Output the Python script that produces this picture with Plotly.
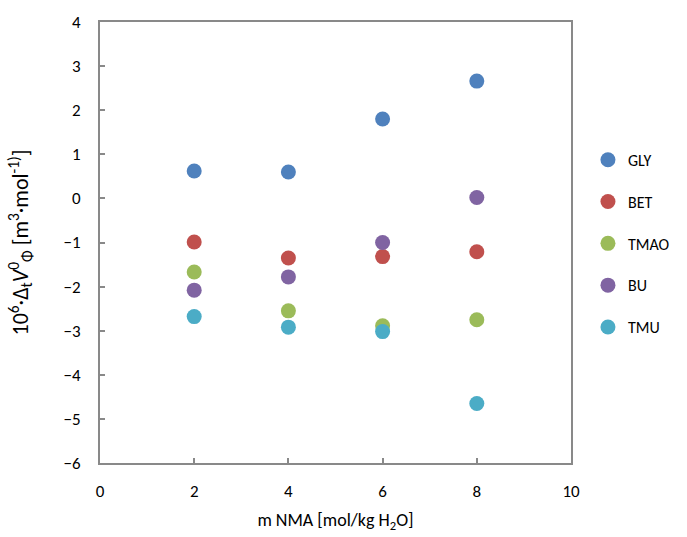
import plotly.graph_objects as go

x_vals = [2, 4, 6, 8]
series_names = ["GLY", "BET", "TMAO", "BU", "TMU"]
gly = [0.62, 0.60, 1.80, 2.66]
bet = [-0.99, -1.35, -1.32, -1.21]
tmao = [-1.67, -2.55, -2.89, -2.75]
bu = [-2.08, -1.78, -1.00, 0.02]
tmu = [-2.68, -2.92, -3.02, -4.65]
colors = ["#4F81BD", "#C0504D", "#9BBB59", "#8064A2", "#4BACC6"]
x_ticks = [0, 2, 4, 6, 8, 10]
y_ticks = [-6, -5, -4, -3, -2, -1, 0, 1, 2, 3, 4]

font_family = "Carlito, Calibri, Lato, sans-serif"
axis_color = "#898989"

fig = go.Figure()
for name, vals, col in zip(series_names, [gly, bet, tmao, bu, tmu], colors):
    fig.add_trace(go.Scatter(
        x=x_vals, y=vals, mode="markers", name=name, legendgroup=name,
        marker=dict(size=15, color=col, line=dict(width=0)),
    ))

axis_common = dict(
    showgrid=False, zeroline=False,
    showline=True, linecolor=axis_color, linewidth=2, mirror=True,
    ticks="inside", ticklen=5, tickwidth=1.5, tickcolor=axis_color,
    tickfont=dict(size=17), automargin=False,
)

fig.update_layout(
    width=687, height=537,
    margin=dict(l=100, r=114, t=22, b=74),
    paper_bgcolor="white", plot_bgcolor="white",
    font=dict(family=font_family, size=17, color="black"),
    showlegend=True,
    legend=dict(x=1.036, y=0.726, xanchor="left", yanchor="top",
                tracegroupgap=18, font=dict(size=16), itemwidth=30,
                borderwidth=0, bgcolor="rgba(0,0,0,0)"),
    xaxis=dict(range=[0, 10], tickvals=x_ticks, ticklabelstandoff=12,
               title=dict(text="m NMA [mol/kg H<sub>2</sub>O]", font=dict(size=18), standoff=12),
               **axis_common),
    yaxis=dict(range=[-6, 4], tickvals=y_ticks, ticklabelstandoff=14,
               title=dict(text="10<sup>6</sup>·Δ<sub>t</sub><i>V</i><sup>0</sup><sub>Φ</sub> [m<sup>3</sup>·mol<sup>-1)</sup>]",
                          font=dict(size=22), standoff=29),
               **axis_common),
)

fig.write_html("out.html", config={"displayModeBar": False},
               post_script="document.body.style.margin='0';document.body.style.overflow='hidden';")
